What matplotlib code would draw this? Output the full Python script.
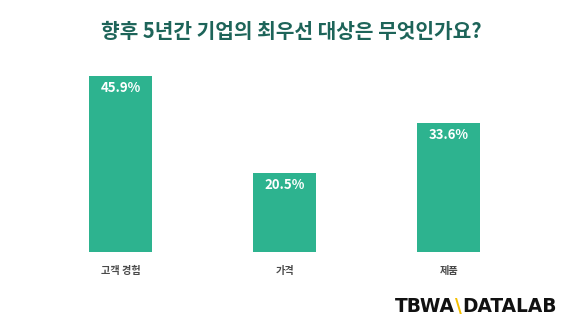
import matplotlib
matplotlib.use("Agg")
import matplotlib.pyplot as plt

categories = ["고객 경험", "가격", "제품"]
values = [45.9, 20.5, 33.6]
value_labels = ["45.9%", "20.5%", "33.6%"]
title = "향후 5년간 기업의 최우선 대상은 무엇인가요?"
logo_parts = ["TBWA", "\\", "DATALAB"]
logo_colors = ["#111111", "#f5c000", "#111111"]

plt.rcParams['font.family'] = ['Noto Sans CJK KR', 'DejaVu Sans']

W, H = 566, 329
fig = plt.figure(figsize=(W / 100, H / 100), dpi=100)
fig.patch.set_facecolor("white")

ax = fig.add_axes([38.5 / W, 1 - 252 / H, 492.5 / W, 191.7 / H])
ax.set_xlim(-0.5, 2.5)
ax.set_ylim(0, 50)
x = range(len(categories))
bars = ax.bar(x, values, width=0.384, color="#2db38f")
for b, lab in zip(bars, value_labels):
    ax.text(b.get_x() + b.get_width() / 2, b.get_height() - 1.3, lab,
            ha="center", va="top", color="white", fontsize=9.5, fontweight="bold")
ax.set_xticks(list(x))
ax.set_xticklabels(categories, fontsize=7.3, color="#4a4a4a", fontweight="bold")
ax.tick_params(axis="x", length=0, pad=10)
ax.set_yticks([])
for s in ax.spines.values():
    s.set_visible(False)

fig.text(291 / W, 1 - 31 / H, title, ha="center", va="center", fontsize=14.6,
         color="#1d6459", fontweight="bold")

# logo: place parts side by side without overlapping
fig.canvas.draw()
renderer = fig.canvas.get_renderer()
ly = 1 - 307 / H
xpos = 395.0
for part, col in zip(logo_parts, logo_colors):
    t = fig.text(xpos / W, ly, part, ha="left", va="center", fontsize=13.4,
                 fontweight="bold", color=col, family=["DejaVu Sans"])
    bb = t.get_window_extent(renderer)
    xpos = bb.x1 + 0.5

fig.savefig("out.png", dpi=100)
